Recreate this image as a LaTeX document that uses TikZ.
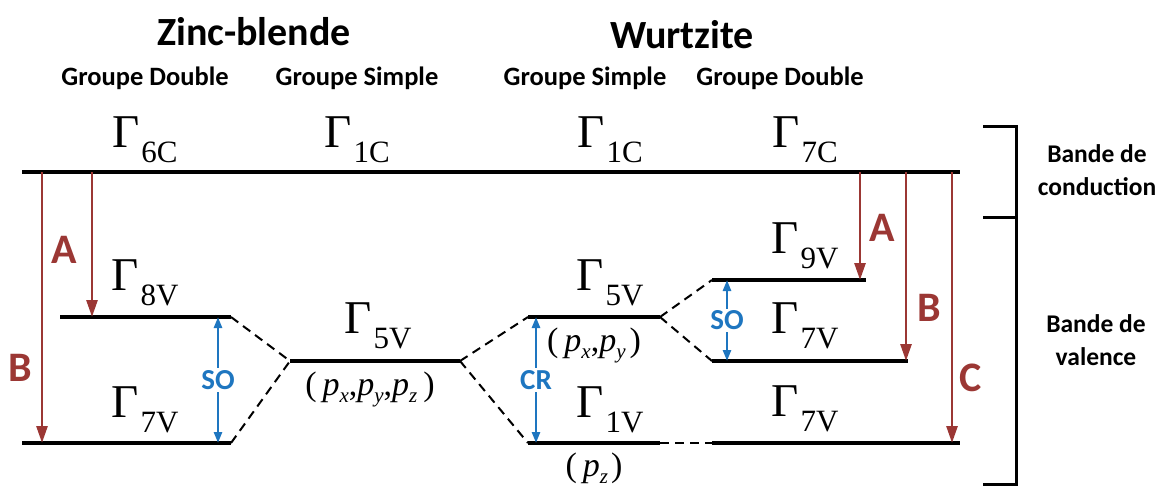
\documentclass[tikz,border=0pt]{standalone}
\usepackage{fontspec}
\setmainfont{Liberation Serif}
\setsansfont{Carlito}
\usetikzlibrary{arrows.meta, positioning}

\definecolor{trred}{RGB}{155,55,52}
\definecolor{soblue}{RGB}{30,118,192}

% Gamma label with its lowered index
\newcommand{\gam}[1]{{\fontsize{47}{47}\selectfont Γ}\hspace{2pt}\raisebox{-15pt}{\fontsize{31}{31}\selectfont #1}}
\newcommand{\porb}[1]{\textit{p}\raisebox{-7pt}{\fontsize{21}{21}\selectfont\textit{#1}}}

\begin{document}
\begin{tikzpicture}[x=1pt, y=-1pt,
    level/.style={line width=4pt},
    link/.style={line width=2pt, dash pattern=on 9pt off 6pt},
    trans/.style={trred, line width=2.7pt, -{Triangle[length=17pt, width=11pt]}},
    split/.style={soblue, line width=2.5pt, {Triangle[length=11pt, width=8pt]}-{Triangle[length=11pt, width=8pt]}},
    gamlbl/.style={inner sep=0pt},
    orb/.style={font=\fontsize{34}{34}\selectfont, inner sep=0pt},
    title/.style={font=\sffamily\bfseries\fontsize{40}{40}\selectfont},
    group/.style={font=\sffamily\bfseries\fontsize{26.5}{26.5}\selectfont},
    band/.style={font=\sffamily\bfseries\fontsize{25.5}{33}\selectfont, align=center},
    trlbl/.style={font=\sffamily\bfseries\fontsize{42}{42}\selectfont, text=trred},
    splbl/.style={font=\sffamily\bfseries\fontsize{29}{29}\selectfont, text=soblue, fill=white, inner sep=2pt}]
  \useasboundingbox (0,0) rectangle (1166,488);

  % headings
  \node[title] (zb) at (254,32) {Zinc-blende};
  \node[title] (wz) at (682,35) {Wurtzite};
  \node[group] (gd1) at (145,78) {Groupe Double};
  \node[group] (gs1) at (357,78) {Groupe Simple};
  \node[group] (gs2) at (585,78) {Groupe Simple};
  \node[group] (gd2) at (780,78) {Groupe Double};

  % levels
  \coordinate (c1) at (22,172);   \coordinate (c2) at (960,172);
  \coordinate (zb8a) at (60,317); \coordinate (zb8b) at (231,317);
  \coordinate (zb7a) at (22,443); \coordinate (zb7b) at (231,443);
  \coordinate (zb5a) at (290,361); \coordinate (zb5b) at (460,361);
  \coordinate (wz5a) at (528,317); \coordinate (wz5b) at (660,317);
  \coordinate (wz1a) at (528,443); \coordinate (wz1b) at (660,443);
  \coordinate (wz9a) at (712,280); \coordinate (wz9b) at (866,280);
  \coordinate (wz7a) at (712,361); \coordinate (wz7b) at (908,361);
  \coordinate (wz7c) at (712,443); \coordinate (wz7d) at (960,443);

  \draw[level] (c1) -- (c2);
  \draw[level] (zb8a) -- (zb8b);
  \draw[level] (zb7a) -- (zb7b);
  \draw[level] (zb5a) -- (zb5b);
  \draw[level] (wz5a) -- (wz5b);
  \draw[level] (wz1a) -- (wz1b);
  \draw[level] (wz9a) -- (wz9b);
  \draw[level] (wz7a) -- (wz7b);
  \draw[level] (wz7c) -- (wz7d);

  % correlations
  \draw[link] (zb8b) -- (zb5a);
  \draw[link] (zb7b) -- (zb5a);
  \draw[link] (zb5b) -- (wz5a);
  \draw[link] (zb5b) -- (wz1a);
  \draw[link] (wz5b) -- (wz9a);
  \draw[link] (wz5b) -- (wz7a);
  \draw[link] (wz1b) -- (wz7c);

  % level names
  \node[gamlbl] (g6c) at (145,140) {\gam{6C}};
  \node[gamlbl] (g1c) at (357,140) {\gam{1C}};
  \node[gamlbl] (g1cw) at (610,140) {\gam{1C}};
  \node[gamlbl] (g7c) at (805,140) {\gam{7C}};
  \node[gamlbl] (g8v) at (145,283) {\gam{8V}};
  \node[gamlbl] (g7v) at (145,410) {\gam{7V}};
  \node[gamlbl] (g5v) at (378,326) {\gam{5V}};
  \node[gamlbl] (g5vw) at (610,283) {\gam{5V}};
  \node[gamlbl] (g1v) at (610,410) {\gam{1V}};
  \node[gamlbl] (g9v) at (805,246) {\gam{9V}};
  \node[gamlbl] (g7vw) at (805,326) {\gam{7V}};
  \node[gamlbl] (g7vb) at (805,409) {\gam{7V}};

  \node[orb] (pxyz) at (370,389) {(\hspace{6pt}\porb{x},\porb{y},\porb{z}\hspace{6pt})};
  \node[orb] (pxy) at (594,345) {(\hspace{6pt}\porb{x},\porb{y}\hspace{4pt})};
  \node[orb] (pz) at (594,468) {(\hspace{6pt}\porb{z}\hspace{3pt})};

  % transitions
  \coordinate (xB) at (42,0);  \coordinate (xA) at (92,0);
  \coordinate (xAw) at (860,0); \coordinate (xBw) at (906,0); \coordinate (xCw) at (952,0);
  \draw[trans] (c1 -| xB) -- (zb7a -| xB);
  \draw[trans] (c1 -| xA) -- (zb8a -| xA);
  \draw[trans] (c1 -| xAw) -- (wz9a -| xAw);
  \draw[trans] (c1 -| xBw) -- (wz7a -| xBw);
  \draw[trans] (c1 -| xCw) -- (wz7c -| xCw);
  \node[trlbl] (la) at (64,250) {A};
  \node[trlbl] (lb) at (20,368) {B};
  \node[trlbl] (law) at (882,228) {A};
  \node[trlbl] (lbw) at (929,308) {B};
  \node[trlbl] (lcw) at (971,378) {C};

  % splittings
  \coordinate (xSO) at (218,0); \coordinate (xCR) at (536,0); \coordinate (xSOw) at (727,0);
  \draw[split] (zb8b -| xSO) -- node[splbl] {SO} (zb7b -| xSO);
  \draw[split] (wz5a -| xCR) -- node[splbl] {CR} (wz1a -| xCR);
  \draw[split] (wz9a -| xSOw) -- node[splbl] {SO} (wz7a -| xSOw);

  % bands
  \coordinate (bt) at (983,126); \coordinate (bm) at (983,217); \coordinate (bb) at (983,484);
  \draw[line width=3pt] (bt) -- (bt -| 1016,0) -- (bb -| 1016,0) -- (bb);
  \draw[line width=3pt] (bm) -- (bm -| 1016,0);
  \node[band] (cond) at (1097,170) {Bande de\\conduction};
  \node[band] (val) at (1096,340) {Bande de\\valence};
\end{tikzpicture}
\end{document}
